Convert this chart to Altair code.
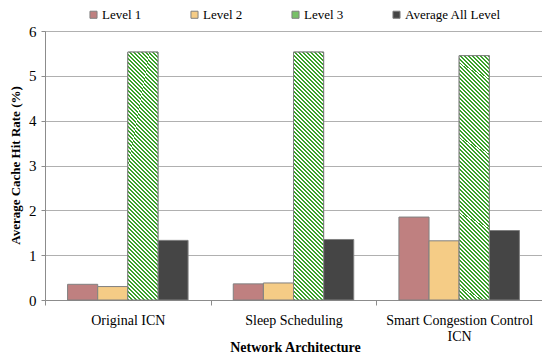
import altair as alt
import pandas as pd

categories = ["Original ICN", "Sleep Scheduling", "Smart Congestion Control ICN"]
levels = ["Level 1", "Level 2", "Level 3", "Average All Level"]
level1 = [0.35, 0.36, 1.85]
level2 = [0.30, 0.38, 1.32]
level3 = [5.53, 5.53, 5.45]
average = [1.33, 1.35, 1.55]

series = {"Level 1": level1, "Level 2": level2, "Level 3": level3, "Average All Level": average}
rows = []
for lv in levels:
    for c, v in zip(categories, series[lv]):
        rows.append({"Architecture": c, "Level": lv, "Rate": v})
df = pd.DataFrame(rows)

colors = ["#bf8080", "#f5cc86", "#78c068", "#454545"]
FONT = "Liberation Serif"

# diagonal green/white stripe fill for the Level 3 bars (style only)
stripe_green = "#3aa22a"
n_periods = 71
stops = []
for k in range(n_periods):
    a = k / n_periods
    b = (k + 0.5) / n_periods
    c = (k + 1) / n_periods
    stops += [{"offset": a, "color": stripe_green}, {"offset": b, "color": stripe_green},
              {"offset": b, "color": "#ffffff"}, {"offset": c, "color": "#ffffff"}]
stripes = {"gradient": "linear", "x1": 0, "y1": 1, "x2": 0.1384, "y2": -0.13, "stops": stops}

x_enc = alt.X("Architecture:N", sort=categories,
              scale=alt.Scale(paddingInner=0, paddingOuter=0),
              axis=alt.Axis(title="Network Architecture", labelAngle=0,
                            labelExpr="datum.label == 'Smart Congestion Control ICN' ? ['Smart Congestion Control', 'ICN'] : datum.label",
                            labelFontSize=14, labelColor="#000",
                            labelPadding=8, labelLineHeight=16,
                            titleFontSize=14, titleFontWeight="bold",
                            titleColor="#000", titleX=250, titleY=47,
                            titleBaseline="middle", titleAlign="center",
                            domainColor="#8c8c8c", tickColor="#8c8c8c", tickSize=5,
                            tickBand="extent", grid=False))
xo_enc = alt.XOffset("Level:N", sort=levels,
                     scale=alt.Scale(domain=levels, paddingInner=0, paddingOuter=0.75))
y_enc = alt.Y("Rate:Q", scale=alt.Scale(domain=[0, 6], nice=False),
              axis=alt.Axis(title="Average Cache Hit Rate (%)", values=[0, 1, 2, 3, 4, 5, 6],
                            labelFontSize=15, labelColor="#000",
                            labelPadding=5,
                            titleFontSize=13, titleFontWeight="bold",
                            titleColor="#000", titleX=-30, titleY=134,
                            titleBaseline="middle", titleAlign="center", titleAngle=270,
                            domainColor="#8c8c8c", tickColor="#8c8c8c", tickSize=4,
                            gridColor="#b0b0b0", gridWidth=1))

bars = alt.Chart(df).mark_bar(stroke="#808080", strokeWidth=1).encode(
    x=x_enc, xOffset=xo_enc, y=y_enc,
    color=alt.Color("Level:N", sort=levels,
                    scale=alt.Scale(domain=levels, range=colors),
                    legend=alt.Legend(title=None, orient="none", legendX=42, legendY=-23,
                                      direction="horizontal", columns=4,
                                      symbolType="square", symbolSize=50,
                                      symbolStrokeColor="#808080", symbolStrokeWidth=1,
                                      labelFontSize=13,
                                      labelColor="#000", labelOffset=2,
                                      columnPadding=46)),
)

striped = alt.Chart(df).transform_filter(alt.datum.Level == "Level 3").mark_bar(
    color=stripes, stroke="#808080", strokeWidth=1
).encode(x=x_enc, xOffset=xo_enc, y=y_enc)

chart = alt.layer(bars, striped).properties(
    width=497, height=269,
    autosize=alt.AutoSizeParams(type="none"),
    padding={"left": 37, "top": 23, "right": 0, "bottom": 55},
).configure(font=FONT).configure_axis(
    labelFont=FONT, titleFont=FONT
).configure_legend(labelFont=FONT).configure_view(
    stroke="#a0a0a0", strokeWidth=1)

chart.save("out.html", embed_options={"renderer": "svg", "actions": False})
